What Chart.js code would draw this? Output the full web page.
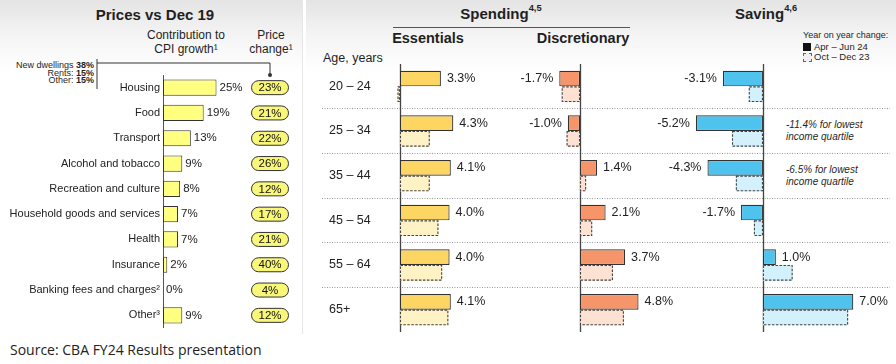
<!DOCTYPE html>
<html>
<head>
<meta charset="utf-8">
<script src="https://cdn.jsdelivr.net/npm/chart.js@4.4.1/dist/chart.umd.min.js"></script>
<style>
  body { margin: 0; width: 896px; height: 364px; background: #fff; position: relative; overflow: hidden;
         font-family: "Liberation Sans", Arial, sans-serif; color: #1f1f1f; }
  .panel { position: absolute; top: 0; height: 334px; background: linear-gradient(#e4e4e4 0px, #f4f4f4 35px, #fff 72px); }
  .t { position: absolute; white-space: nowrap; }
  .c { text-align: center; }
  canvas { position: absolute; }
  sup { font-size: 62%; vertical-align: top; position: relative; top: -2px; }
</style>
</head>
<body>
<div class="panel" style="left:0;width:302px;border-right:1px solid #e6e6e6"></div>
<div class="panel" style="left:306px;width:590px"></div>

<!-- left panel text -->
<div class="t c" style="left:55px;width:200px;top:6px;font-weight:bold;font-size:15px">Prices vs Dec 19</div>
<div class="t c" style="left:136px;width:100px;top:28px;font-size:12px;line-height:14px">Contribution to<br>CPI growth¹</div>
<div class="t c" style="left:235px;width:72px;top:28px;font-size:12px;line-height:14px">Price<br>change¹</div>
<div class="t" id="housingSplit" style="left:0;width:94px;top:62px;font-size:9px;line-height:7.7px;text-align:right"></div>
<svg style="position:absolute;left:0;top:0" width="300" height="100">
  <path d="M97 59 V89 M97 63 H270 V74" stroke="#333" stroke-width="1" fill="none"/>
  <circle cx="270" cy="75" r="2" fill="#333"/>
</svg>

<!-- right panel text -->
<div class="t c" style="left:421px;width:160px;top:5px;font-weight:bold;font-size:15px">Spending<sup>4,5</sup></div>
<div style="position:absolute;left:393px;top:27px;width:237px;height:1px;background:#555"></div>
<div class="t c" style="left:378px;width:100px;top:30px;font-weight:bold;font-size:14.5px">Essentials</div>
<div class="t c" style="left:523px;width:120px;top:30px;font-weight:bold;font-size:14.5px">Discretionary</div>
<div class="t" style="left:323px;top:51px;font-size:12.5px">Age, years</div>
<div class="t c" style="left:686px;width:160px;top:5px;font-weight:bold;font-size:15px">Saving<sup>4,6</sup></div>
<div class="t" style="left:803px;top:30px;font-size:9px">Year on year change:</div>
<div style="position:absolute;left:803px;top:43px;width:8px;height:8px;background:#111"></div>
<div class="t" style="left:814px;top:41px;font-size:9.5px">Apr – Jun 24</div>
<div style="position:absolute;left:803px;top:53px;width:7px;height:7px;border:1px dashed #666;background:#f0f0f0"></div>
<div class="t" style="left:814px;top:51px;font-size:9.5px">Oct – Dec 23</div>
<div class="t" style="left:786px;top:119px;font-size:10px;line-height:12px;font-style:italic">-11.4% for lowest<br>income quartile</div>
<div class="t" style="left:786px;top:164px;font-size:10px;line-height:12px;font-style:italic">-6.5% for lowest<br>income quartile</div>

<div class="t" style="left:10px;top:340px;font-family:'Open Sans',sans-serif;font-size:14px;color:#222">Source: CBA FY24 Results presentation</div>

<canvas id="cpi" width="300" height="253" style="left:0;top:75px"></canvas>
<canvas id="ess" width="568" height="268" style="left:322px;top:64px"></canvas>
<canvas id="disc" width="180" height="268" style="left:500px;top:64px"></canvas>
<canvas id="sav" width="256" height="268" style="left:640px;top:64px"></canvas>

<script>
// ---- data ----
const cpiCategories = ['Housing', 'Food', 'Transport', 'Alcohol and tobacco', 'Recreation and culture',
  'Household goods and services', 'Health', 'Insurance', 'Banking fees and charges²', 'Other³'];
const cpiContribution = [25, 19, 13, 9, 8, 7, 7, 2, 0, 9];
const priceChange = [23, 21, 22, 26, 12, 17, 21, 40, 4, 12];
const housingParts = ['New dwellings', 'Rents:', 'Other:'];
const housingShares = [38, 15, 15];

const ageGroups = ['20 – 24', '25 – 34', '35 – 44', '45 – 54', '55 – 64', '65+'];
const essentialsAprJun24 = [3.3, 4.3, 4.1, 4.0, 4.0, 4.1];
const essentialsOctDec23 = [-0.2, 2.4, 2.4, 3.1, 3.4, 3.9];
const discretionaryAprJun24 = [-1.7, -1.0, 1.4, 2.1, 3.7, 4.8];
const discretionaryOctDec23 = [-1.5, -1.1, 0.5, 1.0, 2.7, 3.6];
const savingAprJun24 = [-3.1, -5.2, -4.3, -1.7, 1.0, 7.0];
const savingOctDec23 = [-1.1, -2.4, -2.1, -0.7, 2.3, 6.6];

const FONT = 'Liberation Sans';

document.getElementById('housingSplit').innerHTML = housingParts
  .map((p, i) => p + ' <b>' + housingShares[i] + '%</b>').join('<br>');

// category axis should not push the chart area in for its first/last label
function noLabelPadding(s, width) {
  s.width = width;
  s.paddingTop = 0;
  s.paddingBottom = 0;
}

// contribution labels + price change pills
const cpiLabels = {
  id: 'cpiLabels',
  afterDatasetsDraw(chart) {
    const ctx = chart.ctx;
    const meta = chart.getDatasetMeta(0);
    ctx.save();
    ctx.textBaseline = 'middle';
    meta.data.forEach((el, i) => {
      ctx.fillStyle = '#222';
      ctx.font = '11.5px ' + FONT;
      ctx.textAlign = 'left';
      ctx.fillText(cpiContribution[i] + '%', Math.max(el.x, el.base) + 3, el.y);
      // pill
      const cx = 270, w = 37, h = 14, r = 7;
      const x0 = cx - w / 2, y0 = el.y - h / 2;
      ctx.beginPath();
      ctx.moveTo(x0 + r, y0);
      ctx.lineTo(x0 + w - r, y0);
      ctx.arc(x0 + w - r, y0 + r, r, -Math.PI / 2, Math.PI / 2);
      ctx.lineTo(x0 + r, y0 + h);
      ctx.arc(x0 + r, y0 + r, r, Math.PI / 2, Math.PI * 1.5);
      ctx.closePath();
      ctx.fillStyle = '#f9f77a';
      ctx.fill();
      ctx.strokeStyle = '#333';
      ctx.lineWidth = 1;
      ctx.stroke();
      ctx.fillStyle = '#111';
      ctx.textAlign = 'center';
      ctx.font = '11.5px ' + FONT;
      ctx.fillText(priceChange[i] + '%', cx, el.y + 0.5);
    });
    ctx.restore();
  }
};

new Chart(document.getElementById('cpi'), {
  type: 'bar',
  data: {
    labels: cpiCategories,
    datasets: [{
      data: cpiContribution,
      backgroundColor: '#ffff80',
      borderColor: '#333',
      borderWidth: 1,
      borderSkipped: false,
      barPercentage: 0.64,
      categoryPercentage: 1
    }]
  },
  options: {
    indexAxis: 'y',
    responsive: false,
    animation: false,
    layout: { padding: 0 },
    plugins: { legend: { display: false }, tooltip: { enabled: false } },
    scales: {
      x: { display: false, min: 0, max: 64 },
      y: {
        afterFit: s => noLabelPadding(s, 163),
        grid: { display: false, drawTicks: false },
        border: { display: true, color: '#555', width: 1 },
        ticks: { color: '#222', font: { family: FONT, size: 11 }, padding: 3 }
      }
    }
  },
  plugins: [cpiLabels]
});

// zero axis line, dashed outline for Oct-Dec 23 bars, value labels for Apr-Jun 24 bars
const panelDecor = {
  id: 'panelDecor',
  beforeDatasetsDraw(chart) {
    const ctx = chart.ctx, a = chart.chartArea;
    const x0 = Math.round(chart.scales.x.getPixelForValue(0)) + 0.5;
    ctx.save();
    ctx.strokeStyle = '#444';
    ctx.lineWidth = 1.3;
    ctx.beginPath();
    ctx.moveTo(x0, a.top);
    ctx.lineTo(x0, a.bottom);
    ctx.stroke();
    ctx.restore();
  },
  afterDatasetsDraw(chart) {
    const ctx = chart.ctx;
    ctx.save();
    ctx.strokeStyle = '#444';
    ctx.lineWidth = 1.1;
    ctx.setLineDash([2.5, 1.5]);
    chart.getDatasetMeta(1).data.forEach(el => {
      const l = Math.min(el.x, el.base), r = Math.max(el.x, el.base);
      ctx.strokeRect(l + 0.5, el.y - el.height / 2 + 0.5, Math.max(r - l - 1, 1), el.height - 1);
    });
    ctx.setLineDash([]);
    const vals = chart.data.datasets[0].data;
    ctx.fillStyle = '#222';
    ctx.font = '12.5px ' + FONT;
    ctx.textBaseline = 'middle';
    chart.getDatasetMeta(0).data.forEach((el, i) => {
      const v = vals[i];
      const txt = v.toFixed(1) + '%';
      if (v >= 0) {
        ctx.textAlign = 'left';
        ctx.fillText(txt, Math.max(el.x, el.base) + 6, el.y);
      } else {
        ctx.textAlign = 'right';
        ctx.fillText(txt, Math.min(el.x, el.base) - 6, el.y);
      }
    });
    ctx.restore();
  }
};

function panelChart(id, solid, dashed, solidColor, dashColor, min, max, showAges) {
  const yScale = showAges ? {
    display: true,
    offset: true,
    afterFit: s => noLabelPadding(s, 0),
    grid: {
      offset: true,
      drawTicks: false,
      lineWidth: 1,
      color: c => (c.type === 'tick' && c.index > 0) ? '#9a9a9a' : 'rgba(0,0,0,0)'
    },
    border: { display: false, dash: [1, 1.5] },
    ticks: { mirror: true, padding: 7, color: '#222', font: { family: FONT, size: 12.5 } }
  } : { display: false };
  return new Chart(document.getElementById(id), {
    type: 'bar',
    data: {
      labels: ageGroups,
      datasets: [
        { label: 'Apr – Jun 24', data: solid, backgroundColor: solidColor, borderColor: '#333',
          borderWidth: 1.2, borderSkipped: false, barPercentage: 1, categoryPercentage: 0.7 },
        { label: 'Oct – Dec 23', data: dashed, backgroundColor: dashColor, borderWidth: 0,
          barPercentage: 1, categoryPercentage: 0.7 }
      ]
    },
    options: {
      indexAxis: 'y',
      responsive: false,
      animation: false,
      layout: { padding: 0 },
      plugins: { legend: { display: false }, tooltip: { enabled: false } },
      scales: {
        x: { display: false, min: min, max: max },
        y: yScale
      }
    },
    plugins: [panelDecor]
  });
}

panelChart('ess', essentialsAprJun24, essentialsOctDec23, '#fdd563', '#fff3c6', -6.29, 39.52, true);
panelChart('disc', discretionaryAprJun24, discretionaryOctDec23, '#f7956a', '#fde2d4', -6.56, 8.2, false);
panelChart('sav', savingAprJun24, savingOctDec23, '#4dc3ee', '#d3f1fc', -9.53, 10.31, false);
</script>
</body>
</html>
